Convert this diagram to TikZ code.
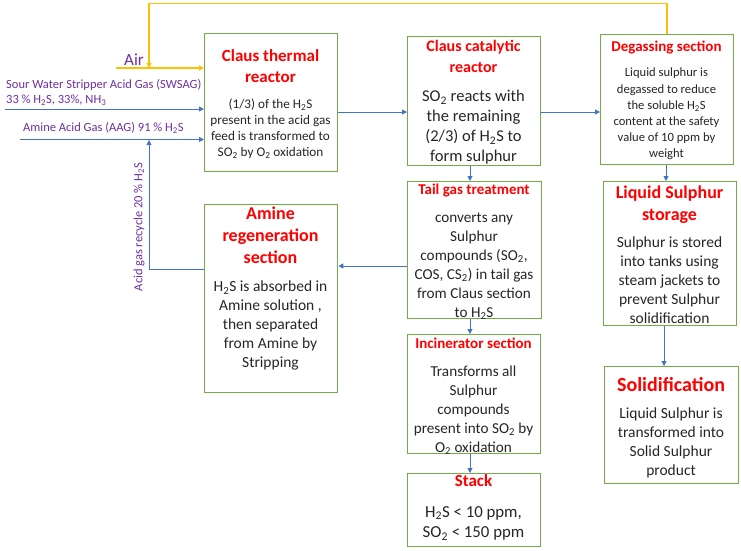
\documentclass[tikz,border=0pt]{standalone}
\usepackage{fontspec}
\setmainfont{Carlito}
\usetikzlibrary{arrows.meta}
\definecolor{boxgreen}{HTML}{70AD47}
\definecolor{flowblue}{HTML}{4472C4}
\definecolor{airyellow}{HTML}{FFC000}
\definecolor{labelpurple}{HTML}{7030A0}
\definecolor{titlered}{HTML}{FF0000}
\newcommand{\sbs}[1]{\textsubscript{#1}}
\begin{document}
\begin{tikzpicture}[x=1pt,y=-1pt,
  box/.style={draw=boxgreen,line width=1.3pt,anchor=north west,inner sep=0pt},
  ttl/.style 2 args={text=titlered,font=\bfseries\fontsize{#1}{#2}\selectfont,align=center,anchor=north,inner sep=0pt},
  bdy/.style 2 args={text=black!85,font=\fontsize{#1}{#2}\selectfont,align=center,anchor=north,inner sep=0pt},
  flow/.style={draw=flowblue,line width=0.9pt,-{Triangle[length=5pt,width=5pt]}},
  plain/.style={draw=flowblue,line width=0.9pt},
  airline/.style={draw=airyellow,line width=1.1pt},
  lbl/.style={text=labelpurple,font=\fontsize{12.5}{15.5}\selectfont,inner sep=0pt}]
\useasboundingbox[fill=white] (0,0) rectangle (741,550);

% boxes
\node[box,minimum width=133pt,minimum height=138pt] (thermal) at (204,33) {};
\node[box,minimum width=133pt,minimum height=129pt] (catal) at (407,36) {};
\node[box,minimum width=133pt,minimum height=130pt] (degas) at (600,34) {};
\node[box,minimum width=134pt,minimum height=137pt] (tail) at (407,181) {};
\node[box,minimum width=133pt,minimum height=144pt] (storage) at (603,181) {};
\node[box,minimum width=133pt,minimum height=188pt] (amine) at (204,204) {};
\node[box,minimum width=133pt,minimum height=119pt] (incin) at (407,334) {};
\node[box,minimum width=133pt,minimum height=73pt] (stack) at (407,473) {};
\node[box,minimum width=134pt,minimum height=117pt] (solid) at (604,366) {};

% texts
\node[ttl={17}{21}] (thermalT) at (270.5,49) {Claus thermal\\reactor};
\node[bdy={13.2}{16}] (thermalB) at (270.5,99) {(1/3) of the H\sbs{2}S\\present in the acid gas\\feed is transformed to\\SO\sbs{2} by O\sbs{2} oxidation};

\node[ttl={16}{21}] (catalT) at (473.5,40.5) {Claus catalytic\\reactor};
\node[bdy={16.5}{20}] (catalB) at (473.5,90) {SO\sbs{2} reacts with\\the remaining\\(2/3) of H\sbs{2}S to\\form sulphur};

\node[ttl={15}{18}] (degasT) at (666.5,41) {Degassing section};
\node[bdy={12.6}{16.2}] (degasB) at (666.5,68) {Liquid sulphur is\\degassed to reduce\\the soluble H\sbs{2}S\\content at the safety\\value of 10 ppm by\\weight};

\node[ttl={15}{18}] (tailT) at (474,184) {Tail gas treatment};
\node[bdy={15.2}{19}] (tailB) at (474,212.5) {converts any\\Sulphur\\compounds (SO\sbs{2},\\COS, CS\sbs{2}) in tail gas\\from Claus section\\to H\sbs{2}S};

\node[ttl={18}{21.5}] (storageT) at (669.5,186) {Liquid Sulphur\\storage};
\node[bdy={15.5}{19}] (storageB) at (669.5,237) {Sulphur is stored\\into tanks using\\steam jackets to\\prevent Sulphur\\solidification};

\node[ttl={18}{22}] (amineT) at (270.5,207) {Amine\\regeneration\\section};
\node[bdy={15.5}{19}] (amineB) at (270.5,281) {H\sbs{2}S is absorbed in\\Amine solution ,\\then separated\\from Amine by\\Stripping};

\node[ttl={15}{18}] (incinT) at (473.5,338) {Incinerator section};
\node[bdy={15.2}{19}] (incinB) at (473.5,366) {Transforms all\\Sulphur\\compounds\\present into SO\sbs{2} by\\O\sbs{2} oxidation};

\node[ttl={17}{20}] (stackT) at (473.5,474.5) {Stack};
\node[bdy={16.8}{20.5}] (stackB) at (473.5,506) {H\sbs{2}S < 10 ppm,\\SO\sbs{2} < 150 ppm};

\node[ttl={20}{24}] (solidT) at (671,377) {Solidification};
\node[bdy={15.5}{19}] (solidB) at (671,408) {Liquid Sulphur is\\transformed into\\Solid Sulphur\\product};

% input labels
\node[text=labelpurple,font=\fontsize{17}{20}\selectfont,inner sep=0pt] (airL) at (134,60) {Air};
\node[lbl,anchor=west] (swsagL1) at (6,85) {Sour Water Stripper Acid Gas (SWSAG)};
\node[lbl,anchor=west] (swsagL2) at (6,100.5) {33 \% H\sbs{2}S, 33\%, NH\sbs{3}};
\node[lbl,anchor=west] (aagL) at (23,128) {Amine Acid Gas (AAG) 91 \% H\sbs{2}S};
\node[lbl,rotate=90] (recL) at (139,227) {Acid gas recycle 20 \% H\sbs{2}S};

% coordinates
\coordinate (airStart) at (116,68);
\coordinate (swStart) at (5,109);
\coordinate (aagStart) at (20,139.5);
\coordinate (recCorner) at (149,269);
\coordinate (recTip) at (149,140);
\coordinate (yTop1) at (667,3.5);
\coordinate (yTop2) at (149,3.5);
\coordinate (yEnd) at (149,68);

% air / yellow
\draw[airline,-{Triangle[length=5pt,width=5pt]}] (airStart) -- (thermal.west |- airStart);
\draw[airline,-{Triangle[length=5pt,width=5pt]}] (degas.north -| yTop1) -- (yTop1) -- (yTop2) -- (yEnd);

% feeds
\draw[flow] (swStart) -- (thermal.west |- swStart);
\draw[flow] (aagStart) -- (thermal.west |- aagStart);
\draw[plain] (amine.west |- recCorner) -- (recCorner);
\draw[flow] (recCorner) -- (recTip);

% main flows
\draw[flow] (thermal.east |- 0,112) -- (catal.west |- 0,112);
\draw[flow] (catal.east |- 0,112) -- (degas.west |- 0,112);
\draw[flow] (catal.south -| 470,0) -- (tail.north -| 470,0);
\draw[flow] (tail.west |- 0,266) -- (amine.east |- 0,266);
\draw[flow] (tail.south -| 470,0) -- (incin.north -| 470,0);
\draw[flow] (incin.south -| 470,0) -- (stack.north -| 470,0);
\draw[flow] (degas.south -| 666,0) -- (storage.north -| 666,0);
\draw[flow] (storage.south -| 664,0) -- (solid.north -| 664,0);
\end{tikzpicture}
\end{document}
